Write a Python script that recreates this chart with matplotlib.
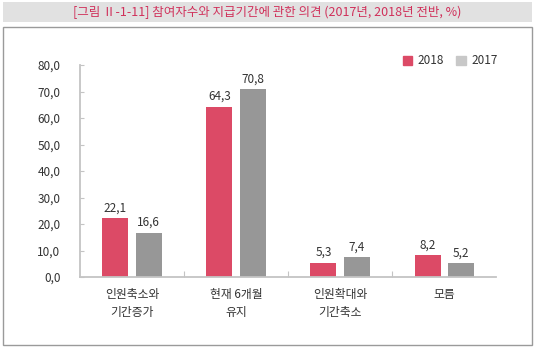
import numpy as np
import matplotlib.pyplot as plt
from matplotlib.patches import Rectangle, Patch

plt.rcParams['font.family'] = ['Noto Sans CJK KR', 'DejaVu Sans']

# --- data --- #
categories = ['인원축소와\n기간증가', '현재 6개월\n유지', '인원확대와\n기간축소', '모름']
vals_2018 = [22.1, 64.3, 5.3, 8.2]
vals_2017 = [16.6, 70.8, 7.4, 5.2]
y_ticks = [0, 10, 20, 30, 40, 50, 60, 70, 80]

red = '#dc4a66'
gray = '#979797'
legend_gray = '#c8c8c8'
text_col = '#333333'
axis_col = '#c4c4c4'


def comma(v):
    return f'{v:.1f}'.replace('.', ',')


fig = plt.figure(figsize=(5.35, 3.52), dpi=100)

# title band and outer box
fig.patches.append(Rectangle((0.006, 0.937), 0.989, 0.057, transform=fig.transFigure,
                             facecolor='#e1e1e1', edgecolor='none', zorder=0))
fig.text(0.5, 0.966, '[그림 Ⅱ-1-11] 참여자수와 지급기간에 관한 의견 (2017년, 2018년 전반, %)',
         ha='center', va='center', fontsize=9, color='#d0305a', fontweight='medium')
fig.patches.append(Rectangle((0.006, 0.02), 0.989, 0.903, transform=fig.transFigure,
                             facecolor='none', edgecolor='#9a9a9a', lw=1.0, zorder=0))

ax = fig.add_axes([0.1495, 0.213, 0.778, 0.602])

x = np.arange(len(categories))
w = 0.25
off = 0.16
b1 = ax.bar(x - off, vals_2018, w, color=red, zorder=2)
b2 = ax.bar(x + off, vals_2017, w, color=gray, zorder=2)

for rects, vals in ((b1, vals_2018), (b2, vals_2017)):
    for r, v in zip(rects, vals):
        ax.text(r.get_x() + r.get_width() / 2, v + 1.5, comma(v),
                ha='center', va='bottom', fontsize=8.5, color=text_col)

ax.set_xlim(-0.5, len(categories) - 0.5)
ax.set_ylim(0, 80)
ax.set_yticks(y_ticks)
ax.set_yticklabels([comma(t) for t in y_ticks], fontsize=8.5, color=text_col)
ax.tick_params(axis='y', length=3, width=0.8, color=axis_col, direction='in', pad=14)

# group separators as x ticks, category names as minor labels
ax.set_xticks(np.arange(len(categories) - 1) + 0.5)
ax.set_xticklabels([])
ax.tick_params(axis='x', which='major', length=4, width=0.8, color=axis_col, direction='in')
ax.set_xticks(x, minor=True)
ax.set_xticklabels(categories, minor=True, fontsize=8.5, color=text_col, linespacing=1.45)
ax.tick_params(axis='x', which='minor', length=0, pad=8)

for s in ['top', 'right']:
    ax.spines[s].set_visible(False)
for s in ['left', 'bottom']:
    ax.spines[s].set_color(axis_col)
    ax.spines[s].set_linewidth(1.3)

handles = [Patch(color=red, label='2018'), Patch(color=legend_gray, label='2017')]
fig.legend(handles=handles, loc='center right', bbox_to_anchor=(0.935, 0.827), ncol=2,
           frameon=False, fontsize=8.5, handlelength=0.8, handleheight=0.8,
           handletextpad=0.5, columnspacing=1.0, labelcolor=text_col,
           borderpad=0.2, borderaxespad=0.0)

fig.savefig('out.png', dpi=100)
